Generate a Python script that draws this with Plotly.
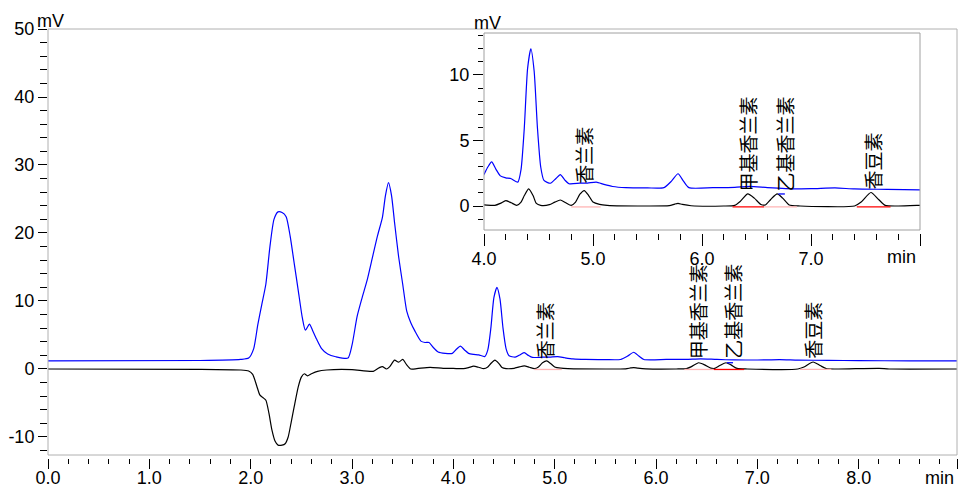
import plotly.graph_objects as go

# ---- data ----
blue_t = [0.00, 1.50, 1.90, 1.98, 2.03, 2.07, 2.11, 2.15, 2.19, 2.23, 2.27, 2.31, 2.35, 2.39, 2.43, 2.47,
          2.51, 2.54, 2.58, 2.61, 2.65, 2.70, 2.76, 2.84, 2.96, 3.00, 3.05, 3.10, 3.15, 3.20, 3.25, 3.30,
          3.33, 3.36, 3.39, 3.42, 3.46, 3.50, 3.54, 3.58, 3.62, 3.68, 3.72, 3.76, 3.80, 3.85, 3.92, 3.99,
          4.03, 4.07, 4.11, 4.15, 4.20, 4.25, 4.31, 4.34, 4.37, 4.40, 4.43, 4.46, 4.49, 4.52, 4.55, 4.61,
          4.66, 4.70, 4.74, 4.78, 4.88, 4.95, 5.03, 5.10, 5.18, 5.30, 5.50, 5.65, 5.72, 5.78, 5.83, 5.88,
          6.10, 6.30, 6.44, 6.60, 6.77, 7.00, 7.22, 7.40, 7.70, 8.00, 8.50, 8.97]
blue_mv = [1.20, 1.25, 1.40, 1.60, 3.0, 6.5, 9.5, 12.5, 18.0, 22.0, 23.1, 23.0, 22.4, 19.5, 15.5, 11.5,
           7.5, 5.7, 6.6, 5.7, 4.4, 3.0, 2.2, 1.8, 1.6, 3.5, 7.7, 10.5, 13.1, 16.3, 19.5, 22.3,
           25.5, 27.4, 25.5, 21.5, 16.5, 12.5, 8.5, 6.8, 5.6, 4.1, 3.9, 3.9, 3.2, 2.5, 2.3, 2.3,
           2.9, 3.36, 2.8, 2.3, 2.15, 2.08, 1.82, 2.8, 6.0, 10.5, 12.0, 10.3, 6.0, 3.0, 1.95, 1.74,
           2.1, 2.4, 2.0, 1.7, 1.74, 1.75, 1.82, 1.65, 1.49, 1.40, 1.38, 1.40, 1.9, 2.46, 1.9, 1.40,
           1.40, 1.42, 1.50, 1.40, 1.33, 1.32, 1.38, 1.30, 1.27, 1.23, 1.20, 1.18]

black_t = [0.00, 1.50, 1.90, 1.98, 2.02, 2.06, 2.09, 2.12, 2.15, 2.18, 2.21, 2.24, 2.27, 2.31, 2.34, 2.37,
           2.40, 2.43, 2.47, 2.50, 2.53, 2.56, 2.60, 2.66, 2.75, 3.00, 3.21, 3.27, 3.30, 3.34, 3.37, 3.42,
           3.46, 3.50, 3.54, 3.58, 3.64, 3.77, 3.90, 4.00, 4.10, 4.15, 4.20, 4.25, 4.30, 4.34, 4.37, 4.41,
           4.45, 4.48, 4.52, 4.60, 4.65, 4.70, 4.75, 4.80, 4.84, 4.88, 4.92, 4.96, 5.00, 5.06, 5.13, 5.50,
           5.70, 5.75, 5.78, 5.82, 5.90, 6.20, 6.30, 6.35, 6.42, 6.48, 6.54, 6.58, 6.63, 6.69, 6.74, 6.80,
           6.90, 7.40, 7.46, 7.55, 7.62, 7.68, 7.80, 8.20, 8.30, 8.97]
black_mv = [0.0, -0.05, -0.15, -0.3, -0.8, -2.5, -3.8, -4.2, -4.6, -6.5, -9.0, -10.6, -11.2, -11.2, -11.0, -10.0,
            -7.8, -5.5, -2.6, -1.2, -0.7, -1.0, -0.7, -0.35, -0.15, -0.1, -0.35, 0.2, 0.35, 0.0, 0.3, 1.3,
            1.0, 1.4, 0.6, 0.0, 0.05, 0.25, 0.1, 0.08, 0.05, 0.2, 0.41, 0.25, 0.05, 0.3, 0.8, 1.31,
            0.8, 0.2, 0.05, 0.1, 0.3, 0.46, 0.25, 0.05, 0.3, 0.9, 1.18, 0.8, 0.3, 0.12, 0.05, 0.0,
            0.03, 0.15, 0.2, 0.12, 0.02, 0.0, 0.05, 0.35, 0.92, 0.6, 0.12, 0.08, 0.5, 0.92, 0.6, 0.08,
            0.0, 0.0, 0.3, 1.03, 0.5, 0.05, 0.0, 0.1, 0.0, 0.0]

# integration baselines (start, end) and their colours in main / inset view
base_start = [4.80, 6.28, 6.57, 7.42]
base_end = [5.07, 6.57, 6.87, 7.73]
base_level = [-0.07, -0.07, -0.07, -0.07]
base_color_main = ["#ffb4b4", "#ffb4b4", "#ff0000", "#ffb4b4"]
base_color_inset = ["#ffb4b4", "#ff0000", "#ffb4b4", "#ff0000"]

# peak names (rotated labels)
peak_names = ["香兰素", "甲基香兰素", "乙基香兰素", "香豆素"]
peak_pos_main = [4.90, 6.41, 6.76, 7.55]
peak_base_main = [1.3, 1.3, 1.3, 1.3]
peak_pos_inset = [4.91, 6.42, 6.76, 7.56]
peak_base_inset = [1.6, 1.05, 1.05, 1.15]

# axis ticks
main_x_ticks = [0, 1, 2, 3, 4, 5, 6, 7, 8, 8.97]
main_x_text = ["0.0", "1.0", "2.0", "3.0", "4.0", "5.0", "6.0", "7.0", "8.0", ""]
main_y_ticks = [-10, 0, 10, 20, 30, 40, 50]
main_y_text = ["-10", "0", "10", "20", "30", "40", "50"]
inset_x_ticks = [4, 5, 6, 7, 8]
inset_x_text = ["4.0", "5.0", "6.0", "7.0", ""]
inset_y_ticks = [0, 5, 10]
inset_y_text = ["0", "5", "10"]

FONT = "Liberation Sans, Arial, sans-serif"
CJK = "Noto Sans CJK SC"

fig = go.Figure()
for xa, ya in (("x", "y"), ("x2", "y2")):
    fig.add_trace(go.Scatter(x=blue_t, y=blue_mv, mode="lines", xaxis=xa, yaxis=ya,
                             line=dict(color="#0000ff", width=1.2, shape="spline", smoothing=0.6),
                             showlegend=False, hoverinfo="skip"))
    fig.add_trace(go.Scatter(x=black_t, y=black_mv, mode="lines", xaxis=xa, yaxis=ya,
                             line=dict(color="#000000", width=1.2, shape="spline", smoothing=0.6),
                             showlegend=False, hoverinfo="skip"))
    colors = base_color_main if xa == "x" else base_color_inset
    for s, e, lv, c in zip(base_start, base_end, base_level, colors):
        fig.add_trace(go.Scatter(x=[s, e], y=[lv, lv], mode="lines", xaxis=xa, yaxis=ya,
                                 line=dict(color=c, width=1.3), showlegend=False, hoverinfo="skip"))

tickfont = dict(family=FONT, size=18, color="black")

fig.update_layout(
    width=960, height=488,
    margin=dict(l=48, r=3, t=29, b=30, autoexpand=False),
    paper_bgcolor="white", plot_bgcolor="white",
    showlegend=False,
    xaxis=dict(domain=[0, 1], range=[0, 8.97], anchor="free", position=0, automargin=False,
               tickmode="array", tickvals=main_x_ticks, ticktext=main_x_text,
               ticks="outside", ticklen=10, tickcolor="black", tickwidth=1, ticklabelstandoff=-7,
               minor=dict(dtick=0.2, tick0=0, ticks="outside", ticklen=5, tickcolor="black", tickwidth=1),
               showgrid=False, zeroline=False, showline=False, tickfont=tickfont),
    yaxis=dict(domain=[3 / 429, 1], range=[-12.65, 50], anchor="x", automargin=False,
               tickmode="array", tickvals=main_y_ticks, ticktext=main_y_text,
               ticks="outside", ticklen=9, tickcolor="black", tickwidth=1,
               minor=dict(dtick=2, tick0=0, ticks="outside", ticklen=7, tickcolor="black", tickwidth=1),
               showgrid=False, zeroline=False, showline=False, tickfont=tickfont),
    xaxis2=dict(domain=[436 / 909, 872 / 909], range=[4, 8], anchor="free", position=225 / 429, automargin=False,
                tickmode="array", tickvals=inset_x_ticks, ticktext=inset_x_text,
                ticks="outside", ticklen=12, tickcolor="black", tickwidth=1, ticklabelstandoff=-3,
                minor=dict(dtick=0.2, tick0=0, ticks="outside", ticklen=6, tickcolor="black", tickwidth=1),
                showgrid=False, zeroline=False, showline=False, tickfont=tickfont),
    yaxis2=dict(domain=[228 / 429, 425 / 429], range=[-1.83, 13.2], anchor="x2", automargin=False,
                tickmode="array", tickvals=inset_y_ticks, ticktext=inset_y_text,
                ticks="outside", ticklen=10, tickcolor="black", tickwidth=1,
                minor=dict(dtick=1, tick0=0, ticks="outside", ticklen=5, tickcolor="black", tickwidth=1),
                showgrid=False, zeroline=False, showline=False, tickfont=tickfont),
)

# frames
fig.add_shape(type="rect", xref="x domain", yref="y domain", x0=0, x1=1, y0=0, y1=1,
              line=dict(color="#b0b0b0", width=1), layer="above")
fig.add_shape(type="rect", xref="x2 domain", yref="y2 domain", x0=0, x1=1, y0=0, y1=1,
              line=dict(color="#a0a0a0", width=1), layer="above")

# small peak marker
for xa, ya in (("x", "y"), ("x2", "y2")):
    fig.add_shape(type="line", xref=xa, yref=ya, x0=6.70, x1=6.76, y0=0.92, y1=0.92,
                  line=dict(color="#0000ff", width=1.3))

# axis unit labels
fig.add_annotation(text="mV", xref="x domain", yref="y domain", x=0, y=1, xanchor="left", yanchor="middle",
                   xshift=-13, yshift=8, showarrow=False, font=dict(family=FONT, size=18, color="black"))
fig.add_annotation(text="min", xref="paper", yref="paper", x=1, y=0, xanchor="right", yanchor="middle",
                   xshift=-1, yshift=-20, showarrow=False, font=dict(family=FONT, size=18, color="black"))
fig.add_annotation(text="mV", xref="x2 domain", yref="y2 domain", x=0, y=1, xanchor="left", yanchor="middle",
                   xshift=-12, yshift=10, showarrow=False, font=dict(family=FONT, size=18, color="black"))
fig.add_annotation(text="min", xref="x2 domain", yref="y2 domain", x=1, y=0, xanchor="right", yanchor="middle",
                   xshift=-2, yshift=-27, showarrow=False, font=dict(family=FONT, size=18, color="black"))

# peak labels
for name, px, py in zip(peak_names, peak_pos_main, peak_base_main):
    fig.add_annotation(text=name, x=px, y=py, xref="x", yref="y", textangle=-90, showarrow=False,
                       xanchor="center", yanchor="bottom", borderpad=0,
                       font=dict(family=CJK, size=19, color="black"))
for name, px, py in zip(peak_names, peak_pos_inset, peak_base_inset):
    fig.add_annotation(text=name, x=px, y=py, xref="x2", yref="y2", textangle=-90, showarrow=False,
                       xanchor="center", yanchor="bottom", borderpad=0,
                       font=dict(family=CJK, size=19, color="black"))

fig.write_html("out.html", config={"displayModeBar": False},
               post_script="document.body.style.margin='0';document.body.style.overflow='hidden';")
